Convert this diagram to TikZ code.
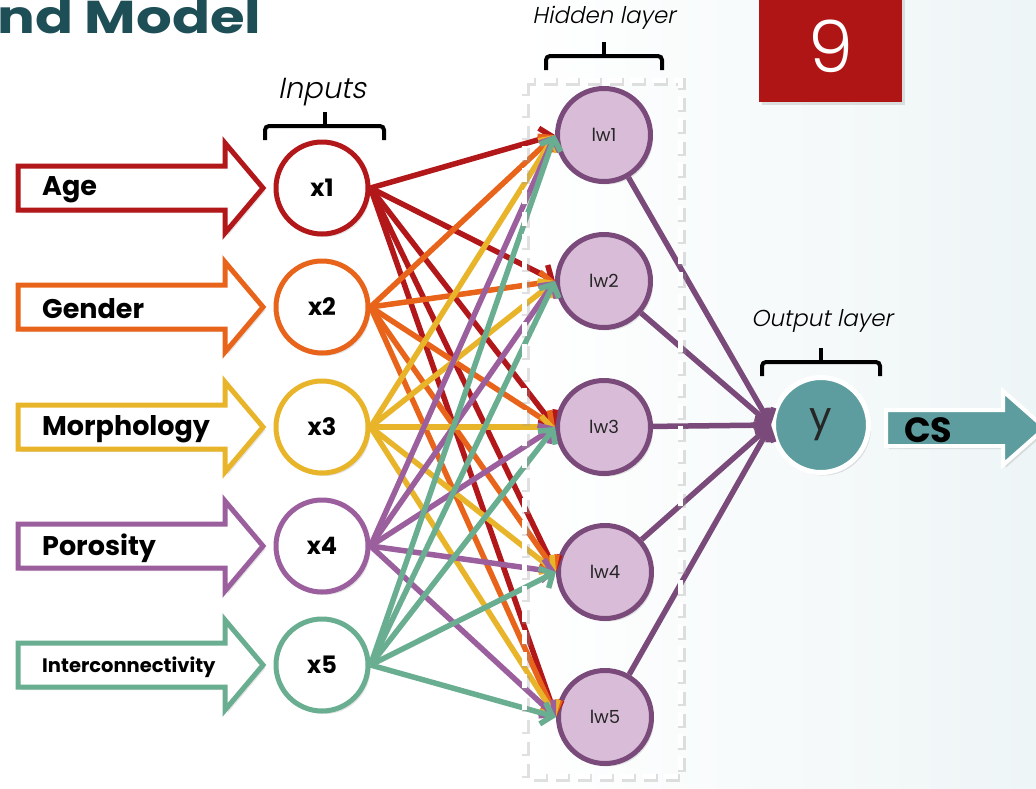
\documentclass[tikz,border=0pt]{standalone}
\usepackage{fontspec}
\setmainfont{Poppins}
\newfontfamily\slantfam{Poppins Light}[FakeSlant=0.2]
\newfontfamily\lightfam{Poppins Light}
\newfontfamily\titlefam{Poppins}[FakeStretch=1.22]
\usetikzlibrary{arrows.meta,shadows,calc}
\definecolor{cAge}{HTML}{B2171A}
\definecolor{cGen}{HTML}{E8641B}
\definecolor{cMor}{HTML}{E8B52A}
\definecolor{cPor}{HTML}{9B5F9E}
\definecolor{cInt}{HTML}{6AAE92}
\definecolor{cHid}{HTML}{7A4A7A}
\definecolor{cHidFill}{HTML}{D9BDD8}
\definecolor{cTeal}{HTML}{5E9D9F}
\definecolor{cTitle}{HTML}{1E4F57}
\definecolor{cBox}{HTML}{B01515}
\definecolor{cHaze}{HTML}{EEF5F6}
\tikzset{
  shad/.style={drop shadow={opacity=0.22,shadow xshift=2.5pt,shadow yshift=-3pt}},
  incirc/.style={circle,minimum size=92pt,inner sep=0pt,line width=5pt,fill=white,shad,
    font=\bfseries\fontsize{24}{27}\selectfont},
  hidcirc/.style={circle,minimum size=93pt,inner sep=0pt,line width=5pt,draw=cHid,fill=cHidFill,shad,
    font=\fontsize{18}{21}\selectfont,text=black!85},
  inlab/.style={anchor=west,inner sep=0pt,font=\bfseries\fontsize{27}{30}\selectfont},
  italab/.style={font=\slantfam\fontsize{23}{27}\selectfont},
  brace/.style={line width=4pt,rounded corners=4pt,black},
  conn/.style={line width=5.5pt,-{Straight Barb[length=10pt,width=22pt]}},
}
\newcommand\blockarrowin[2]{%
  \draw[line width=5pt,draw=#2,fill=white,shad,line join=miter]
    (18,#1-22) -- (225,#1-22) -- (225,#1-45) -- (263,#1) -- (225,#1+45) -- (225,#1+22) -- (18,#1+22) -- cycle;}
\newcommand\bracketat[3]{% x1 x2 y
  \draw[brace] (#1,#3+14) -- (#1,#3) -- (#2,#3) -- (#2,#3+14);
  \draw[brace,rounded corners=0pt] ({(#1+#2)/2},#3) -- ({(#1+#2)/2},#3-14);}
\begin{document}
\begin{tikzpicture}[x=1pt,y=-1pt]
\useasboundingbox (0,0) rectangle (1036,788);
\clip (0,0) rectangle (1036,788);
\shade[left color=white,right color=cHaze,middle color=white] (0,0) rectangle (1036,788);
% title
\node[anchor=base west,inner sep=0pt,text=cTitle,font=\titlefam\bfseries\fontsize{46}{50}\selectfont] (title) at (-3,33) {nd Model};
% slide number
\node[fill=cBox,shad,minimum width=143pt,minimum height=112pt,inner sep=0pt,text=white,
  font=\lightfam\fontsize{72}{78}\selectfont] (num) at (830.5,46) {9};
% layer labels and brackets
\node[italab,font=\slantfam\fontsize{29}{33}\selectfont] (tIn) at (322,92) {Inputs};
\bracketat{265}{384}{126}
\node[italab] (tHid) at (604,18) {Hidden layer};
\bracketat{546}{662}{56}
\node[italab] (tOut) at (822,321) {Output layer};
\bracketat{762}{880}{362}
% input block arrows
\blockarrowin{188}{cAge}
\blockarrowin{307}{cGen}
\blockarrowin{427}{cMor}
\blockarrowin{546}{cPor}
\blockarrowin{665}{cInt}
\node[inlab] (lAge) at (42,190) {Age};
\node[inlab] (lGen) at (42,309) {Gender};
\node[inlab] (lMor) at (42,429) {Morphology};
\node[inlab] (lPor) at (42,548) {Porosity};
\node[inlab,font=\bfseries\fontsize{19.5}{22}\selectfont] (lInt) at (42,667) {Interconnectivity};
% input neurons
\node[incirc,draw=cAge] (x1) at (322,188) {x1};
\node[incirc,draw=cGen] (x2) at (322,307) {x2};
\node[incirc,draw=cMor] (x3) at (322,427) {x3};
\node[incirc,draw=cPor] (x4) at (322,546) {x4};
\node[incirc,draw=cInt] (x5) at (322,665) {x5};
% hidden neurons
\node[hidcirc] (h1) at (604,135) {lw1};
\node[hidcirc] (h2) at (604,281) {lw2};
\node[hidcirc] (h3) at (604,427) {lw3};
\node[hidcirc] (h4) at (605,572) {lw4};
\node[hidcirc] (h5) at (605,717) {lw5};
% output neuron
\node[circle,minimum size=95pt,inner sep=0pt,fill=cTeal,draw=white,line width=5pt,shad,
  font=\fontsize{40}{44}\selectfont,text=black!85] (y) at (821,425) {\raisebox{-5pt}{y}};
% CS arrow
\draw[line width=4pt,draw=white,fill=cTeal,shad,line join=miter]
  (886,410) -- (1003,410) -- (1003,391) -- (1045,428) -- (1003,465) -- (1003,446) -- (886,446) -- cycle;
\node[anchor=west,inner sep=0pt,font=\bfseries\fontsize{35}{38}\selectfont] (cs) at (904,430) {CS};
% connections input -> hidden
\foreach \i/\c in {1/cAge,2/cGen,3/cMor,4/cPor,5/cInt}{
  \foreach \j in {1,...,5}{
    \draw[conn,draw=\c] (x\i.east) -- (h\j.west);
  }
}
% connections hidden -> output
\foreach \j in {1,...,5}{
  \draw[conn,draw=cHid] (h\j) -- (y.west);
}
% hidden layer dashed box
\draw[line width=8pt,black!40,opacity=0.3,dash pattern=on 14pt off 8pt] (526,82) rectangle (682,778);
\draw[line width=5pt,white,dash pattern=on 14pt off 8pt] (524,80) rectangle (680,776);
\end{tikzpicture}
\end{document}
